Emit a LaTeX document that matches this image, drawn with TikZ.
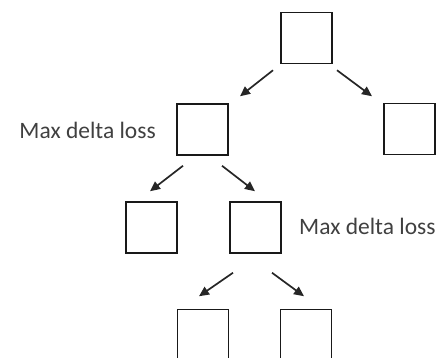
\documentclass[tikz,border=0pt]{standalone}
\usepackage{fontspec}
\setmainfont{Carlito}
\usetikzlibrary{arrows.meta}
\begin{document}
\begin{tikzpicture}[x=1pt,y=-1pt,
  tbox/.style={draw=black!90,line width=1.5pt,minimum width=51pt,minimum height=51pt,inner sep=0pt},
  arr/.style={draw=black!85,line width=1.7pt,-{Triangle[length=10pt,width=9pt]}},
  lbl/.style={text=black!75,font=\fontsize{23.5}{26}\selectfont,inner sep=0pt}]
\useasboundingbox (0,0) rectangle (444,358);
\clip (0,0) rectangle (444,358);
\node[tbox] (r) at (306.5,38) {};
\node[tbox] (a) at (202.5,129.5) {};
\node[tbox] (b) at (409.5,129) {};
\node[tbox] (c) at (151.5,227.5) {};
\node[tbox] (d) at (255.5,227.5) {};
\node[tbox] (e) at (203,335) {};
\node[tbox] (f) at (306,335) {};
\node[lbl,anchor=east] (la) at (156,130) {Max delta loss};
\node[lbl,anchor=west] (ld) at (299,226) {Max delta loss};
\draw[arr] ([shift={(-33.5,6)}]r.south) -- ([shift={(37.5,-7)}]a.north);
\draw[arr] ([shift={(30.5,6)}]r.south) -- ([shift={(-37.5,-6.5)}]b.north);
\draw[arr] ([shift={(-19.5,10)}]a.south) -- ([shift={(-1.5,-10)}]c.north);
\draw[arr] ([shift={(19.5,10)}]a.south) -- ([shift={(-0.5,-10)}]d.north);
\draw[arr] ([shift={(-22.5,19)}]d.south) -- ([shift={(-4,-12.5)}]e.north);
\draw[arr] ([shift={(16.5,19)}]d.south) -- ([shift={(-2,-12.5)}]f.north);
\end{tikzpicture}
\end{document}
